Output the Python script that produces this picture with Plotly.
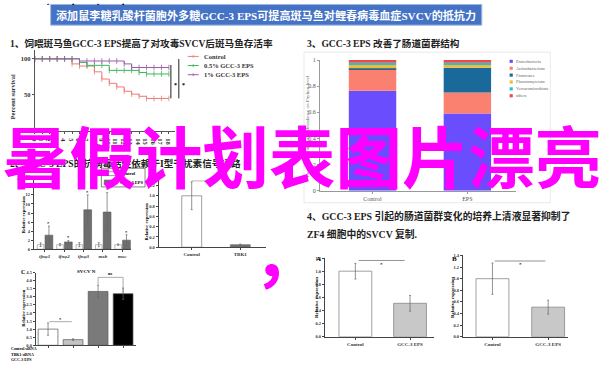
import plotly.graph_objects as go
import numpy as np

W, H = 600, 366
def fx(p): return p / W
def fy(p): return 1 - p / H

SERIF = "Liberation Serif, 'Noto Sans CJK SC', serif"
CJK = "'Noto Sans CJK SC', sans-serif"

# ---------------- data ----------------
banner_title = "添加鼠李糖乳酸杆菌胞外多糖GCC-3 EPS可提高斑马鱼对鲤春病毒血症SVCV的抵抗力"
header1 = "1、饲喂斑马鱼GCC-3 EPS提高了对攻毒SVCV后斑马鱼存活率"
header2 = "2、GCC-3 EPS的抗病毒活性依赖于I型干扰素信号通路"
header3 = "3、GCC-3 EPS 改善了肠道菌群结构"
header4a = "4、GCC-3 EPS 引起的肠道菌群变化的培养上清液显著抑制了"
header4b = "ZF4 细胞中的SVCV 复制."
overlay_text = "暑假计划表图片漂亮"

days = list(range(19))
surv_control = [100, 100, 100, 100, 100, 93, 90, 90, 82, 72, 66, 61, 55, 51, 48, 45, 45, 45, 45]
surv_05 = [100, 100, 100, 100, 100, 100, 95, 91, 91, 91, 84, 84, 84, 84, 81, 79, 79, 79, 79]
surv_1 = [100, 100, 100, 100, 100, 100, 97, 97, 97, 97, 97, 97, 93, 88, 88, 88, 88, 88, 88]
surv_names = ["Control", "0.5% GCC-3 EPS", "1% GCC-3 EPS"]
surv_colors = ["#F17B77", "#3DB65A", "#9A5CA8"]

phyla = ["Proteobacteria", "Actinobacteriota", "Firmicutes", "Planctomycetota", "Verrucomicrobiota", "others"]
phyla_colors = ["#6A4DFD", "#FA8070", "#19699A", "#F7B731", "#22C4CE", "#EE4848"]
groups = ["Control", "EPS"]
ab_control = [0.765, 0.165, 0.007, 0.025, 0.018, 0.020]
ab_eps = [0.592, 0.160, 0.190, 0.025, 0.013, 0.020]

genes = ["ifnφ1", "ifnφ2", "ifnφ3", "mxb", "mxc"]
gene_ctrl = [1.0, 1.0, 1.0, 1.0, 1.0]
gene_ctrl_err = [0.4, 0.25, 0.45, 0.45, 0.15]
gene_eps = [3.1, 1.6, 8.7, 8.2, 2.0]
gene_eps_err = [2.0, 0.3, 3.3, 4.3, 1.2]

tbk_labels = ["Control", "TBK1"]
tbk_vals = [1.0, 0.05]
tbk_err = [0.27, 0.01]

c_conditions = ["Control siRNA", "Control siRNA + EPS", "TBK1 siRNA", "TBK1 siRNA + EPS"]
c_vals = [1.0, 0.35, 3.33, 3.19]
c_err = [0.38, 0.05, 0.38, 0.35]
c_colors = ["#FFFFFF", "#C4C4C4", "#7A7A7A", "#000000"]
c_rows = [("Control siRNA", ["+", "+", "-", "-"]),
          ("TBK1 siRNA", ["-", "-", "+", "+"]),
          ("GCC-3 EPS", ["-", "+", "-", "+"])]

zf_labels = ["Control", "GCC-3 EPS"]
h24_vals = [1.0, 0.51]
h24_err = [0.12, 0.12]
h48_vals = [1.0, 0.51]
h48_err = [0.27, 0.12]

# ---------------- figure ----------------
fig = go.Figure()

for name, vals, col in zip(surv_names, [surv_control, surv_05, surv_1], surv_colors):
    fig.add_trace(go.Scatter(x=days, y=vals, mode="lines+markers", name=name,
                             line=dict(color=col, width=1, shape="hv"),
                             marker=dict(symbol="line-ns", size=4, color=col, line=dict(color=col, width=0.8)),
                             xaxis="x", yaxis="y"))

base_c = np.concatenate([[0], np.cumsum(ab_control)[:-1]])
base_e = np.concatenate([[0], np.cumsum(ab_eps)[:-1]])
for i, ph in enumerate(phyla):
    fig.add_trace(go.Bar(x=groups, y=[ab_control[i], ab_eps[i]], base=[base_c[i], base_e[i]],
                         name=ph, width=0.5, marker=dict(color=phyla_colors[i], line=dict(width=0)),
                         xaxis="x2", yaxis="y2"))

errstyle = dict(type="data", color="#666", thickness=0.7, width=1)

fig.add_trace(go.Bar(x=zf_labels, y=h24_vals, width=0.6,
                     marker=dict(color=["#FFFFFF", "#C8C8C8"], line=dict(color="#888", width=0.8)),
                     error_y=dict(array=h24_err, **errstyle), xaxis="x3", yaxis="y3"))
fig.add_trace(go.Bar(x=zf_labels, y=h48_vals, width=0.59,
                     marker=dict(color=["#FFFFFF", "#C8C8C8"], line=dict(color="#888", width=0.8)),
                     error_y=dict(array=h48_err, **errstyle), xaxis="x4", yaxis="y4"))

fig.add_trace(go.Bar(x=genes, y=gene_ctrl, offset=-0.38, width=0.34,
                     marker=dict(color="#FFFFFF", line=dict(color="#888", width=0.6)),
                     error_y=dict(array=gene_ctrl_err, **errstyle), xaxis="x5", yaxis="y5"))
fig.add_trace(go.Bar(x=genes, y=gene_eps, offset=0.02, width=0.4,
                     marker=dict(color="#6E6E6E", line=dict(color="#555", width=0.6)),
                     error_y=dict(array=gene_eps_err, **errstyle), xaxis="x5", yaxis="y5"))

fig.add_trace(go.Bar(x=tbk_labels, y=tbk_vals, width=0.41,
                     marker=dict(color=["#FFFFFF", "#6E6E6E"], line=dict(color="#777", width=0.7)),
                     error_y=dict(array=tbk_err, **errstyle), xaxis="x6", yaxis="y6"))

fig.add_trace(go.Bar(x=c_conditions, y=c_vals, width=0.79,
                     marker=dict(color=c_colors, line=dict(color="#555", width=0.7)),
                     error_y=dict(array=c_err, **errstyle), xaxis="x7", yaxis="y7"))


def axis(dom, rng, anchor, font=5, color="#333", lc="#444", cat=False, **kw):
    d = dict(domain=dom, range=rng, anchor=anchor, showgrid=False, zeroline=False,
             showline=True, linecolor=lc, linewidth=0.8, ticks="outside", ticklen=2,
             tickwidth=0.6, tickcolor=lc,
             tickfont=dict(size=font, color=color, family=SERIF, weight="bold"), fixedrange=True)
    if cat:
        d["type"] = "category"
    d.update(kw)
    return d

fig.update_layout(
    width=W, height=366, margin=dict(l=0, r=0, t=0, b=0),
    paper_bgcolor="white", plot_bgcolor="white", showlegend=False, barmode="overlay",
    xaxis=axis([fx(31), fx(172)], [0, 18.8], "y", font=6.5, tickmode="array", tickvals=days, lc="#555"),
    yaxis=axis([fy(130), fy(48)], [0, 112], "x", font=6.5, tickmode="array", tickvals=[0, 50, 100], lc="#555"),
    xaxis2=axis([fx(318), fx(515)], [-0.555, 1.508], "y2", font=6, color="#555", lc="#999", cat=True,
                tickfont=dict(size=6, color="#555", family=SERIF)),
    yaxis2=axis([fy(191), fy(58)], [0, 1], "x2", font=6, color="#555", lc="#999",
                tickmode="array", tickvals=[0, 0.2, 0.4, 0.6, 0.8, 1], ticktext=["0", "0.2", "0.4", "0.6", "0.8", "1"],
                tickfont=dict(size=6, color="#555", family=SERIF)),
    xaxis3=axis([fx(323), fx(433)], [-0.558, 1.44], "y3", font=5, cat=True),
    yaxis3=axis([fy(339.3), fy(259.3)], [0, 1.2], "x3", font=4.5, dtick=0.2, tickformat=".1f"),
    xaxis4=axis([fx(462), fx(568)], [-0.53, 1.36], "y4", font=5, cat=True),
    yaxis4=axis([fy(339.3), fy(256.7)], [0, 1.4], "x4", font=4.5, dtick=0.2, tickformat=".1f"),
    xaxis5=axis([fx(30), fx(128)], [-0.56, 4.46], "y5", font=5, cat=True,
                tickfont=dict(size=5, color="#333", family=SERIF, style="italic", weight="bold")),
    yaxis5=axis([fy(250.3), fy(176.7)], [0, 16], "x5", font=4.5, dtick=2),
    xaxis6=axis([fx(155.7), fx(263.3)], [-0.68, 1.52], "y6", font=5, cat=True),
    yaxis6=axis([fy(248.3), fy(180.3)], [0, 1.3], "x6", font=4.5, tickmode="array",
                tickvals=[0, 0.2, 0.4, 0.6, 0.8, 1.0, 1.2], tickformat=".1f"),
    xaxis7=axis([fx(32), fx(133)], [-0.49, 3.52], "y7", font=4.5, cat=True, showticklabels=False),
    yaxis7=axis([fy(348), fy(274)], [0, 4.5], "x7", font=4.5, dtick=0.5, tickformat=".1f"),
)

shapes = []
ann = []

def pline(x0, y0, x1, y1, color="#333", w=0.8):
    shapes.append(dict(type="line", xref="paper", yref="paper", x0=fx(x0), y0=fy(y0), x1=fx(x1), y1=fy(y1),
                       line=dict(color=color, width=w)))

def txt(x, y, s, size, color="#000", xa="left", bold=False, family=SERIF, angle=0, ya="middle",
        xref="paper", yref="paper", italic=False):
    if xref == "paper":
        x = fx(x)
    if yref == "paper":
        y = fy(y)
    ann.append(dict(x=x, y=y, xref=xref, yref=yref, text=s, showarrow=False, xanchor=xa, yanchor=ya,
                    textangle=angle, borderpad=0,
                    font=dict(size=size, color=color, family=family, weight="bold" if bold else "normal",
                              style="italic" if italic else "normal")))

# banner
shapes.append(dict(type="rect", xref="paper", yref="paper", x0=fx(47), y0=fy(22.5), x1=fx(481), y1=fy(1.5),
                   fillcolor="#4472C4", line=dict(color="#9DB5E0", width=1), layer="below"))
txt(264, 12.5, banner_title, 11.1, color="white", xa="center", bold=True)

# headers
txt(5, 41, header1, 9.6, bold=True, color="#222")
txt(304, 41, header3, 9.6, bold=True, color="#222")
txt(5, 163, header2, 9.6, bold=True, color="#222")
txt(304, 217, header4a, 9.8, bold=True, color="#222")
txt(304, 235, header4b, 9.8, bold=True, color="#222")

# panel 1 extras
txt(9, 95, "Percent survival", 6.5, bold=True, xa="center", angle=-90, color="#333")
txt(100, 145, "Days", 6.5, bold=True, xa="center", color="#333")
pline(168, 63, 168, 97, "#222", 1)
pline(176, 57, 176, 97, "#222", 1)
txt(172.5, 83, "*", 6, bold=True, xa="center")
txt(181, 83, "*", 6, bold=True, xa="center")
for i, (name, col) in enumerate(zip(surv_names, surv_colors)):
    yy = 54.3 + i * 9.3
    pline(185, yy, 196, yy, col, 1)
    pline(190.5, yy - 1.5, 190.5, yy + 1.5, col, 0.8)
    txt(200, yy, name, 6.5, bold=True, color="#333")

# panel 3 extras
shapes.append(dict(type="rect", xref="paper", yref="paper", x0=fx(302), y0=fy(203), x1=fx(550), y1=fy(50),
                   fillcolor="rgba(0,0,0,0)", line=dict(color="#E4E4E4", width=0.8), layer="below"))
txt(306, 125, "Percent of community abundance on Phylum level", 5, color="#666", xa="center", angle=-90)
for i, (ph, col) in enumerate(zip(phyla, phyla_colors)):
    yy = 59.3 + i * 7
    shapes.append(dict(type="rect", xref="paper", yref="paper", x0=fx(509), y0=fy(yy + 1.6), x1=fx(512.2),
                       y1=fy(yy - 1.6), fillcolor=col, line=dict(width=0)))
    txt(514, yy, ph, 4.3, color="#666")

# panel 4 extras
txt(313, 260, "A", 7, bold=True)
txt(450, 260, "B", 7, bold=True)
txt(314, 299, "Relative expression", 5, bold=True, xa="center", angle=-90)
txt(451, 299, "Relative expression", 5, bold=True, xa="center", angle=-90)
shapes.append(dict(type="line", xref="x3", yref="y3", x0=0.06, x1=0.9, y0=1.163, y1=1.163,
                   line=dict(color="#666", width=0.7)))
txt(0.48, 1.1, "*", 5, bold=True, xa="center", xref="x3", yref="y3")
txt(0.48, 1.28, "24 h SVCV N", 5, bold=True, xa="center", xref="x3", yref="y3")
shapes.append(dict(type="line", xref="x4", yref="y4", x0=0.04, x1=0.95, y0=1.305, y1=1.305,
                   line=dict(color="#666", width=0.7)))
txt(0.5, 1.24, "*", 5, bold=True, xa="center", xref="x4", yref="y4")
txt(0.5, 1.45, "48 h SVCV N", 5, bold=True, xa="center", xref="x4", yref="y4")

# panel 2A extras
txt(12, 178, "A", 7, bold=True)
txt(20, 215, "Relative expression", 4.5, bold=True, xa="center", angle=-90)
for i, g in enumerate(genes):
    txt(i + 0.22, gene_eps[i] + gene_eps_err[i] + 0.6, "*", 4.5, bold=True, xa="center", xref="x5", yref="y5")
shapes.append(dict(type="rect", xref="paper", yref="paper", x0=fx(98), y0=fy(187), x1=fx(142), y1=fy(168),
                   fillcolor="white", line=dict(color="#333", width=0.6), layer="above"))
shapes.append(dict(type="rect", xref="paper", yref="paper", x0=fx(101), y0=fy(175.5), x1=fx(114), y1=fy(171.5),
                   fillcolor="white", line=dict(color="#555", width=0.6)))
shapes.append(dict(type="rect", xref="paper", yref="paper", x0=fx(101), y0=fy(184), x1=fx(114), y1=fy(180),
                   fillcolor="#6E6E6E", line=dict(color="#555", width=0.6)))
txt(116, 173.5, "Control", 4.5, bold=True)
txt(116, 182, "GCC-3 EPS", 4.5, bold=True)

# panel 2B extras
txt(143, 222, "Relative expression", 4.5, bold=True, xa="center", angle=-90)
shapes.append(dict(type="line", xref="x6", yref="y6", x0=0, x1=0.5, y0=1.29, y1=1.29,
                   line=dict(color="#888", width=0.7)))

# panel 2C extras
txt(16, 273, "C", 6, bold=True)
txt(83, 273, "SVCV N", 5, bold=True, xa="center")
txt(20, 310, "Relative expression", 4.5, bold=True, xa="center", angle=-90)
shapes.append(dict(type="line", xref="x7", yref="y7", x0=0.05, x1=0.95, y0=1.46, y1=1.46,
                   line=dict(color="#888", width=0.7)))
txt(0.5, 1.62, "*", 4.5, bold=True, xa="center", xref="x7", yref="y7")
shapes.append(dict(type="path", xref="x7", yref="y7",
                   path="M 2,3.75 L 2,4.2 L 3,4.2 L 3,3.2", line=dict(color="#888", width=0.7)))
txt(2.5, 4.42, "ns", 4.5, bold=True, xa="center", xref="x7", yref="y7")
for r, (lab, marks) in enumerate(c_rows):
    yy = 351.5 + r * 5.6
    txt(6, yy, lab, 4, bold=True)
    for i, m in enumerate(marks):
        txt(i, fy(yy), m, 4, bold=True, xa="center", xref="x7", yref="paper")

# magenta overlay
txt(300, 154, overlay_text, 66.5, color="#FF00FF", xa="center", bold=True, family=CJK)
txt(284, 252, "，", 66.5, color="#FF00FF", xa="center", bold=True, family=CJK)

fig.update_layout(shapes=shapes, annotations=ann)
fig.write_html("out.html", config={"displayModeBar": False},
               post_script="document.body.style.margin='0px';document.body.style.padding='0px';")
